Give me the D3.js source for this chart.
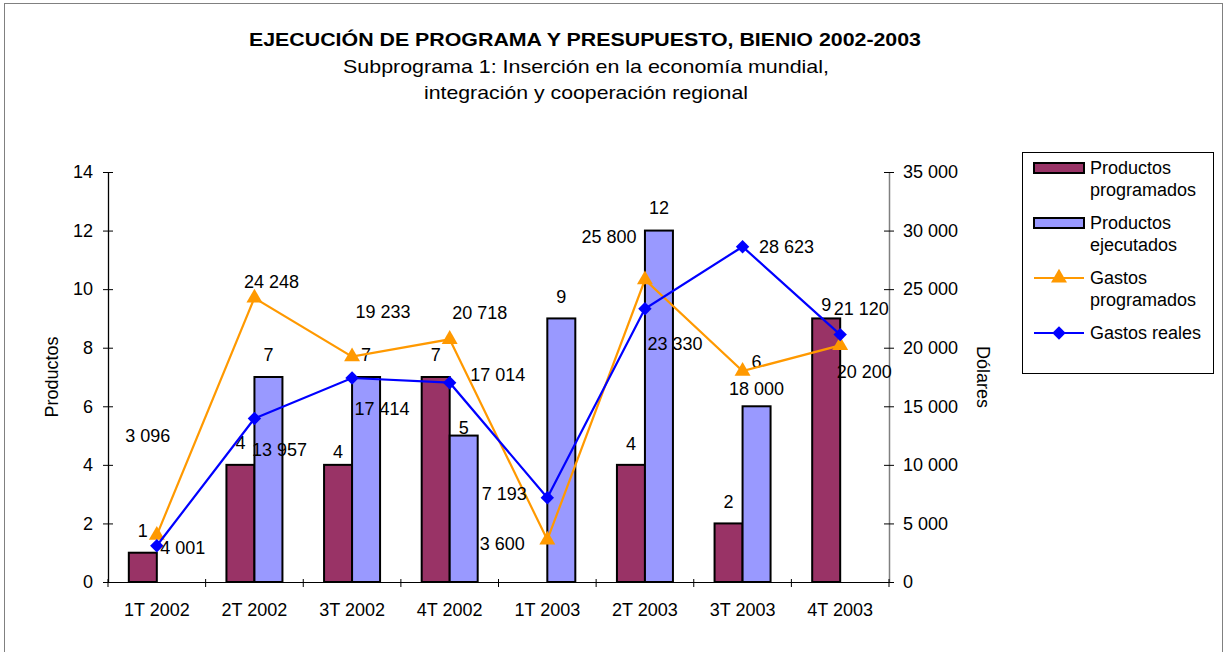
<!DOCTYPE html>
<html>
<head>
<meta charset="utf-8">
<script src="https://cdn.jsdelivr.net/npm/d3@7"></script>
<style>
  html, body { margin: 0; padding: 0; background: #fff; }
  svg { display: block; font-family: "Liberation Sans", Arial, sans-serif; }
</style>
</head>
<body>
<svg id="chart" width="1227" height="652"></svg>
<script>
// ---------- data ----------
const categories = ["1T 2002", "2T 2002", "3T 2002", "4T 2002", "1T 2003", "2T 2003", "3T 2003", "4T 2003"];
const productosProgramados = [1, 4, 4, 7, null, 4, 2, 9];
const productosEjecutados = [null, 7, 7, 5, 9, 12, 6, null];
const gastosProgramados = [4001, 24248, 19233, 20718, 3600, 25800, 18000, 20200];
const gastosReales = [3096, 13957, 17414, 17014, 7193, 23330, 28623, 21120];
const leftTicks = [0, 2, 4, 6, 8, 10, 12, 14];
const rightTicks = [0, 5000, 10000, 15000, 20000, 25000, 30000, 35000];
const seriesNames = ["Productos programados", "Productos ejecutados", "Gastos programados", "Gastos reales"];

// label placement (pixel offsets, kept apart from the values)
const progLabelDy = [-22, -22, -13, -22, 0, -21, -22, -14];
const ejecLabelDy = [0, -22, -22, -8, -22, -23, -45, 0];
const gpLabelOff = [[26, 13], [17, -16], [31, -45], [30, -27], [-45, 4], [-36, -43], [14, 18], [24, 26]];
const grLabelOff = [[-9, -110], [25, 31], [30, 31], [48, -8], [-43, -4], [30, 35], [44, 0], [21, -26]];

// ---------- styles ----------
const C_PROG = "#993366", C_EJEC = "#9999FF", C_GP = "#FF9900", C_GR = "#0000FF";
const FS = 18;

const svg = d3.select("#chart");
const fmt = v => d3.format(",")(v).replace(/,/g, " ");

// outer border
svg.append("rect").attr("x", 4.5).attr("y", 3.5).attr("width", 1218).attr("height", 660)
  .attr("fill", "#fff").attr("stroke", "#808080").attr("stroke-width", 1);

// titles
svg.append("text").attr("x", 585).attr("y", 46).attr("text-anchor", "middle")
  .attr("font-size", 19).attr("font-weight", "bold")
  .attr("textLength", 672).attr("lengthAdjust", "spacingAndGlyphs")
  .text("EJECUCIÓN DE PROGRAMA Y PRESUPUESTO, BIENIO 2002-2003");
svg.append("text").attr("x", 586).attr("y", 73).attr("text-anchor", "middle")
  .attr("font-size", 19).attr("textLength", 486).attr("lengthAdjust", "spacingAndGlyphs")
  .text("Subprograma 1: Inserción en la economía mundial,");
svg.append("text").attr("x", 586).attr("y", 99).attr("text-anchor", "middle")
  .attr("font-size", 19).attr("textLength", 324).attr("lengthAdjust", "spacingAndGlyphs")
  .text("integración y cooperación regional");

// ---------- scales ----------
const x0 = 108, x1 = 889, yTop = 172, yBot = 582;
const x = d3.scaleBand().domain(categories).range([x0, x1]).padding(0);
const barW = 28;
const xs = d3.scaleBand().domain(["prog", "ejec"]).range([0, 2 * barW]);
const groupStart = c => x(c) + x.bandwidth() / 2 - barW;
const yL = d3.scaleLinear().domain([0, 14]).range([yBot, yTop]);
const yR = d3.scaleLinear().domain([0, 35000]).range([yBot, yTop]);

// ---------- axes ----------
const gL = svg.append("g").attr("transform", `translate(${x0},0)`)
  .call(d3.axisLeft(yL).tickValues(leftTicks).tickSize(5).tickSizeOuter(0).tickPadding(10));
gL.select(".domain").attr("stroke", "#000").attr("stroke-width", 1.3);
gL.selectAll(".tick line").attr("x2", -5).attr("x1", 5).attr("stroke", "#000");
gL.selectAll(".tick text").attr("font-size", FS).attr("font-family", "Liberation Sans, Arial, sans-serif").attr("fill", "#000");

const gR = svg.append("g").attr("transform", `translate(${x1},0)`)
  .call(d3.axisRight(yR).tickValues(rightTicks).tickFormat(fmt).tickSize(5).tickSizeOuter(0).tickPadding(9));
gR.select(".domain").attr("stroke", "#808080").attr("stroke-width", 1.5);
gR.selectAll(".tick line").attr("x1", -5).attr("x2", 5).attr("stroke", "#000");
gR.selectAll(".tick text").attr("font-size", FS).attr("font-family", "Liberation Sans, Arial, sans-serif").attr("fill", "#000");

// bottom axis: line, ticks at band boundaries, labels at centers
const gB = svg.append("g").attr("transform", `translate(0,${yBot})`)
  .call(d3.axisBottom(x).tickSize(0).tickPadding(21));
gB.select(".domain").attr("stroke", "#000").attr("stroke-width", 1.2);
gB.selectAll(".tick text").attr("font-size", FS).attr("font-family", "Liberation Sans, Arial, sans-serif").attr("fill", "#000");
const bounds = categories.map(c => x(c)).concat([x1]);
gB.selectAll(".bt").data(bounds).join("line").attr("class", "bt")
  .attr("x1", d => d).attr("x2", d => d).attr("y1", -3).attr("y2", 5).attr("stroke", "#000");

// axis titles
svg.append("text").attr("transform", "translate(58,377) rotate(-90)").attr("text-anchor", "middle")
  .attr("font-size", FS).text("Productos");
svg.append("text").attr("transform", "translate(977,377) rotate(90)").attr("text-anchor", "middle")
  .attr("font-size", FS).text("Dólares");

// ---------- bars ----------
const bars = svg.append("g");
function drawBars(vals, key, color, dys) {
  const data = categories.map((c, i) => ({ c, v: vals[i], dy: dys[i] })).filter(d => d.v != null);
  bars.selectAll(".b-" + key).data(data).join("rect").attr("class", "b-" + key)
    .attr("x", d => groupStart(d.c) + xs(key)).attr("width", xs.bandwidth())
    .attr("y", d => yL(d.v)).attr("height", d => yL(0) - yL(d.v))
    .attr("fill", color).attr("stroke", "#000").attr("stroke-width", 2);
  bars.selectAll(".l-" + key).data(data).join("text").attr("class", "l-" + key)
    .attr("x", d => groupStart(d.c) + xs(key) + xs.bandwidth() / 2)
    .attr("y", d => yL(d.v) + d.dy).attr("dy", "0.35em")
    .attr("text-anchor", "middle").attr("font-size", FS).text(d => d.v);
}
drawBars(productosProgramados, "prog", C_PROG, progLabelDy);
drawBars(productosEjecutados, "ejec", C_EJEC, ejecLabelDy);

// ---------- lines ----------
const cx = c => x(c) + x.bandwidth() / 2;
const triangle = d3.symbol().type(d3.symbolTriangle).size(110);
const diamond = d3.symbol().type(d3.symbolSquare).size(90);
function drawLine(vals, color, marker, rotate, offs) {
  const pts = categories.map((c, i) => ({ c, v: vals[i], o: offs[i] }));
  const g = svg.append("g");
  g.append("path").datum(pts)
    .attr("d", d3.line().x(d => cx(d.c)).y(d => yR(d.v)))
    .attr("fill", "none").attr("stroke", color).attr("stroke-width", 2.2);
  g.selectAll(".m").data(pts).join("path").attr("class", "m")
    .attr("d", marker)
    .attr("transform", d => `translate(${cx(d.c)},${yR(d.v)}) rotate(${rotate})`)
    .attr("fill", color);
  return pts;
}
const gpPts = drawLine(gastosProgramados, C_GP, triangle, 0, gpLabelOff);
const grPts = drawLine(gastosReales, C_GR, diamond, 45, grLabelOff);
const labels = svg.append("g");
[gpPts, grPts].forEach((pts, k) => {
  labels.selectAll(".gl" + k).data(pts).join("text").attr("class", "gl" + k)
    .attr("x", d => cx(d.c) + d.o[0]).attr("y", d => yR(d.v) + d.o[1]).attr("dy", "0.35em")
    .attr("text-anchor", "middle").attr("font-size", FS).text(d => fmt(d.v));
});

// ---------- legend ----------
const lg = svg.append("g");
lg.append("rect").attr("x", 1022.5).attr("y", 152.5).attr("width", 191).attr("height", 221)
  .attr("fill", "#fff").attr("stroke", "#000").attr("stroke-width", 1);
const legendItems = [
  { name: seriesNames[0], type: "bar", color: C_PROG, y: 168 },
  { name: seriesNames[1], type: "bar", color: C_EJEC, y: 223 },
  { name: seriesNames[2], type: "line", color: C_GP, y: 278, marker: triangle, rot: 0 },
  { name: seriesNames[3], type: "line", color: C_GR, y: 333, marker: diamond, rot: 45 }
];
legendItems.forEach(it => {
  if (it.type === "bar") {
    lg.append("rect").attr("x", 1034).attr("y", it.y - 5).attr("width", 50).attr("height", 10)
      .attr("fill", it.color).attr("stroke", "#000").attr("stroke-width", 2);
  } else {
    lg.append("line").attr("x1", 1034).attr("x2", 1084).attr("y1", it.y).attr("y2", it.y)
      .attr("stroke", it.color).attr("stroke-width", 2.2);
    lg.append("path").attr("d", it.marker).attr("fill", it.color)
      .attr("transform", `translate(1059,${it.y}) rotate(${it.rot})`);
  }
  const words = it.name.split(" ");
  const lines = it.name === "Gastos reales" ? [it.name] : [words[0], words.slice(1).join(" ")];
  lines.forEach((t, j) => {
    lg.append("text").attr("x", 1090).attr("y", it.y + j * 22).attr("dy", "0.35em")
      .attr("font-size", FS).text(t);
  });
});
</script>
</body>
</html>
